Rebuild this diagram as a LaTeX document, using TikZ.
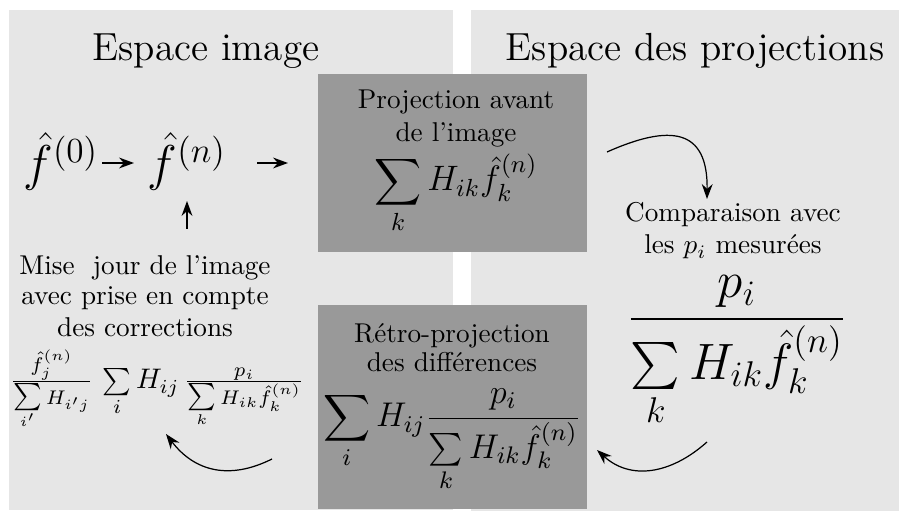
\RequirePackage{fix-cm}
\documentclass[tikz,border=0pt]{standalone}
\usepackage{amsmath}
\usetikzlibrary{arrows.meta}
\definecolor{panelgray}{RGB}{230,230,230}
\definecolor{boxgray}{RGB}{153,153,153}
\newcommand{\bigsumop}{\mathop{\textstyle\sum}\limits}
\begin{document}
\begin{tikzpicture}[x=0.3676pt,y=-0.3676pt,
  txt/.style={inner sep=0pt,outer sep=0pt,anchor=base,align=center},
  arr/.style={-{Stealth[length=5.5pt,width=4pt]},line width=0.45pt}]
\useasboundingbox (0,0) rectangle (899,511);
% panels
\fill[panelgray] (9,10) rectangle (453,510);
\fill[panelgray] (471,10) rectangle (899,511);
\fill[boxgray] (318,74) rectangle (587,252);
\fill[boxgray] (318,305) rectangle (587,509);
% titles
\node[txt,font=\Large] (t1) at (206,61) {Espace image};
\node[txt,font=\Large] (t2) at (695,61) {Espace des projections};
% left
\node[txt,font=\fontsize{18.5}{22}\selectfont] (f0) at (61,181) {$\hat f^{(0)}$};
\node[txt,font=\fontsize{18.5}{22}\selectfont] (fn) at (187,181) {$\hat f^{(n)}$};
\node[txt] (maj1) at (145,275) {Mise~~jour de l'image};
\node[txt] (maj2) at (145,305) {avec prise en compte};
\node[txt] (maj3) at (145,337) {des corrections};
\node[txt,font=\fontsize{10.4}{12.5}\selectfont] (majf) at (157,389) {$\frac{\hat f_j^{(n)}}{\bigsumop_{i'} H_{i'j}}\,\sum\limits_i H_{ij}\,\frac{p_i}{\bigsumop_k H_{ik}\hat f_k^{(n)}}$};
% top box
\node[txt] (pa1) at (456,109) {Projection avant};
\node[txt] (pa2) at (456,142) {de l'image};
\node[txt,font=\fontsize{13}{16}\selectfont] (paf) at (456,191) {$\displaystyle\sum_k H_{ik}\hat f_k^{(n)}$};
% bottom box
\node[txt] (rp1) at (452,343) {R\'etro-projection};
\node[txt] (rp2) at (452,372) {des diff\'erences};
\node[txt,font=\fontsize{12.6}{15}\selectfont] (rpf) at (452,427) {$\displaystyle\sum_i H_{ij}\frac{p_i}{\sum\limits_k H_{ik}\hat f_k^{(n)}}$};
% right
\node[txt] (cp1) at (733,222) {Comparaison avec};
\node[txt] (cp2) at (733,254) {les $p_i$ mesur\'ees};
\node[txt,font=\fontsize{18.8}{22}\selectfont] (cpf) at (737,332) {$\displaystyle\frac{p_i}{\sum\limits_k H_{ik}\hat f_k^{(n)}}$};
% arrow ends
\coordinate (a1s) at (102,163); \coordinate (a1e) at (134,163);
\coordinate (a2s) at (257,163); \coordinate (a2e) at (288,163);
\coordinate (a3s) at (187,229); \coordinate (a3e) at (187,201);
\coordinate (c1s) at (607,152); \coordinate (c1e) at (707,199);
\coordinate (c2s) at (707,442); \coordinate (c2e) at (597,450);
\coordinate (c3s) at (272,459); \coordinate (c3e) at (166,434);
\draw[arr] (a1s) -- (a1e);
\draw[arr] (a2s) -- (a2e);
\draw[arr] (a3s) -- (a3e);
\draw[arr] (c1s) .. controls (670,124) and (708,128) .. (c1e);
\draw[arr] (c2s) .. controls (670,475) and (630,480) .. (c2e);
\draw[arr] (c3s) .. controls (230,480) and (195,472) .. (c3e);
\end{tikzpicture}
\end{document}
